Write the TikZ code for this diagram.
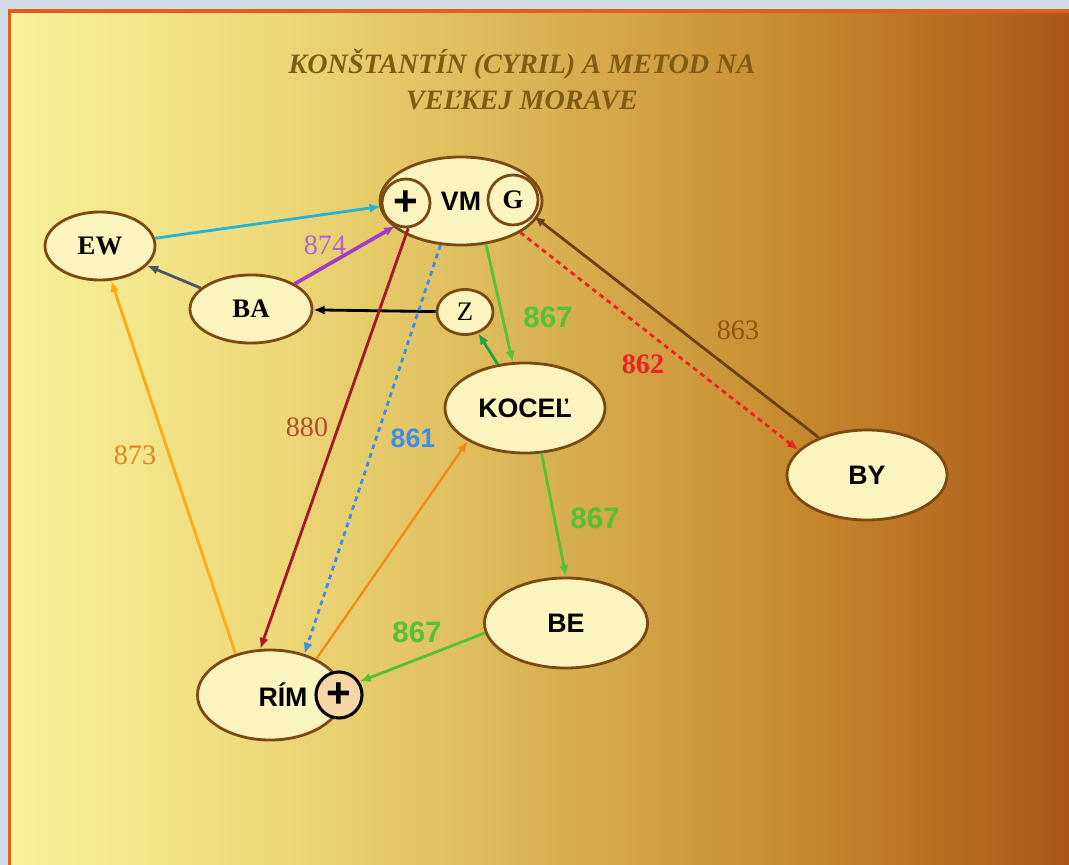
\documentclass[tikz,border=0pt]{standalone}
\usepackage{fontspec}
\setmainfont{Liberation Serif}
\setsansfont{Liberation Sans}
\usepackage{tikz}
\usetikzlibrary{arrows,arrows.meta,shapes.geometric}
\definecolor{skyframe}{HTML}{D2DCE4}
\definecolor{framecol}{HTML}{E0601A}
\definecolor{goldA}{HTML}{F8F29C}
\definecolor{goldB}{HTML}{EED878}
\definecolor{goldC}{HTML}{D9B353}
\definecolor{goldD}{HTML}{C7882C}
\definecolor{goldE}{HTML}{A9571A}
\definecolor{rimcol}{HTML}{7B4A12}
\definecolor{cream}{HTML}{FBF4BE}
\definecolor{peach}{HTML}{F6D6A4}
\definecolor{titlecol}{HTML}{7E5C14}
\definecolor{cyanc}{HTML}{25B4D4}
\definecolor{purplec}{HTML}{9C3CC8}
\definecolor{slatec}{HTML}{4B5566}
\definecolor{dgreenc}{HTML}{1FA34A}
\definecolor{greenc}{HTML}{55C232}
\definecolor{redc}{HTML}{EE2222}
\definecolor{brownc}{HTML}{6B3F12}
\definecolor{dredc}{HTML}{A5182A}
\definecolor{bluec}{HTML}{3C8FE6}
\definecolor{orangec}{HTML}{F58A12}
\definecolor{amberc}{HTML}{F6AE14}
\pgfdeclarehorizontalshading{gold}{100bp}{color(0bp)=(goldA); color(25bp)=(goldA); color(37.5bp)=(goldB); color(50bp)=(goldC); color(62.5bp)=(goldD); color(75bp)=(goldE); color(100bp)=(goldE)}
\tikzstyle{town}=[draw=rimcol,fill=cream,ellipse,line width=2pt,inner sep=0pt]
\tikzstyle{ring}=[draw=rimcol,fill=cream,circle,line width=2pt,inner sep=0pt]
\tikzstyle{link}=[line width=2pt,-{Latex[length=8pt,width=6.5pt]}]
\tikzstyle{dots}=[dash pattern=on 3.5pt off 3pt]
\newcommand{\serifbig}{\fontsize{19}{19}\selectfont\bfseries}
\newcommand{\sansbig}{\fontsize{19}{19}\selectfont\sffamily\bfseries}
\newcommand{\plusbig}{\fontsize{30}{30}\selectfont\sffamily\bfseries}

\begin{document}
\begin{tikzpicture}[x=0.025cm,y=-0.025cm]
\useasboundingbox (0,0) rectangle (1069,865);
\fill[skyframe] (0,0) rectangle (1069,865);
\shade[shading=gold] (10,12) rectangle (1069,865);
\draw[framecol,line width=2.2pt] (1069,11) -- (9.5,11) -- (9.5,865);

% title
\node[align=center,text=titlecol,font=\fontsize{20}{25.6}\selectfont\bfseries\itshape] (head) at (522,80)
  {KONŠTANTÍN (CYRIL) A METOD NA\\VEĽKEJ MORAVE};

% places
\node [town,minimum width=4.05cm,minimum height=2.2cm,font=\sansbig] (vm) at (461,201) {VM};
\node [ring,minimum size=1.2cm,font=\plusbig] (vmplus) at (406,203) {+};
\node [ring,minimum size=1.25cm,font=\serifbig] (vmg) at (513,200) {G};
\node [town,minimum width=2.75cm,minimum height=1.7cm,font=\serifbig] (ew) at (100,246) {EW};
\node [town,minimum width=3.05cm,minimum height=1.7cm,font=\serifbig] (ba) at (251,309) {BA};
\node [town,minimum width=1.4cm,minimum height=1.125cm,font=\fontsize{19}{19}\selectfont] (z) at (465,312) {Z};
\node [town,minimum width=4cm,minimum height=2.25cm,font=\sansbig] (kocel) at (525,408) {KOCEĽ};
\node [town,minimum width=4cm,minimum height=2.25cm,font=\sansbig] (by) at (867,475) {BY};
\node [town,minimum width=4.075cm,minimum height=2.25cm,font=\sansbig] (be) at (566,623) {BE};
\node [town,minimum width=3.625cm,minimum height=2.25cm,font=\sansbig] (rim) at (270,695) {\hspace{0.65cm}RÍM};
\node [circle,draw=black,fill=peach,line width=2.2pt,inner sep=0pt,minimum size=1.15cm,font=\plusbig] (rimplus) at (339,695) {+};

% journeys
\draw[link,cyanc] (ew) -- (vmplus);
\draw[link,purplec,line width=2.6pt] (ba) -- (vmplus.245);
\draw[link,slatec] (ba) -- (ew);
\draw[link,black] (z) -- (ba);
\draw[link,dgreenc] (kocel) -- (z);
\draw[link,greenc] (vm.300) -- (kocel.105);
\draw[link,redc,dots] (vm.332) -- (by.160);
\draw[link,brownc] (by) -- (vmg);
\draw[link,dredc] (vmplus.275) -- (rim.102);
\draw[link,bluec,dots] (vm.245) -- (rim.50);
\draw[link,orangec,line width=1.6pt] (rim.38) -- (kocel.210);
\draw[link,amberc] (rim.130) -- (ew.288);
\draw[link,greenc] (kocel.290) -- (be.north);
\draw[link,greenc] (be.187) -- (rimplus.33);

% years
\node[text=purplec!80!white,font=\fontsize{20}{20}\selectfont] (y874) at (325,245) {874};
\node[text=greenc,font=\fontsize{21}{21}\selectfont\sffamily\bfseries] (y867a) at (548,317) {867};
\node[text=redc,font=\fontsize{20}{20}\selectfont\bfseries] (y862) at (643,364) {862};
\node[text=brownc!70!orange,font=\fontsize{20}{20}\selectfont] (y863) at (738,330) {863};
\node[text=dredc!50!brown,font=\fontsize{20}{20}\selectfont] (y880) at (307,427) {880};
\node[text=bluec,font=\fontsize{19}{19}\selectfont\sffamily\bfseries] (y861) at (413,438) {861};
\node[text=orange!60!brown,font=\fontsize{20}{20}\selectfont] (y873) at (135,455) {873};
\node[text=greenc,font=\fontsize{21}{21}\selectfont\sffamily\bfseries] (y867b) at (595,518) {867};
\node[text=greenc,font=\fontsize{21}{21}\selectfont\sffamily\bfseries] (y867c) at (417,632) {867};
\end{tikzpicture}
\end{document}
